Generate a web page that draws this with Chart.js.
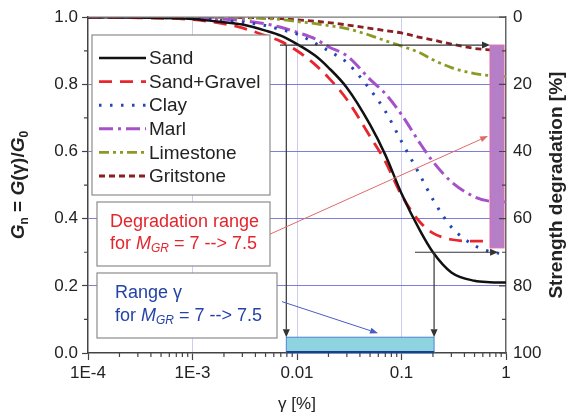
<!DOCTYPE html>
<html><head><meta charset="utf-8">
<script src="https://cdn.jsdelivr.net/npm/chart.js@4/dist/chart.umd.min.js"></script>
<style>html,body{margin:0;padding:0;background:#fff;}canvas{display:block;}</style>
</head><body>
<canvas id="c" width="569" height="418"></canvas>
<script>
// ---- data ----
const gammaPct   = [1e-4, 3e-4, 1e-3, 2e-3, 3e-3, 5e-3, 7e-3, 0.01, 0.015, 0.02, 0.03, 0.05, 0.07, 0.1, 0.15, 0.2, 0.3, 0.5, 0.7, 1];
const sand       = [1.000, 0.999, 0.995, 0.985, 0.978, 0.960, 0.945, 0.920, 0.885, 0.850, 0.790, 0.680, 0.590, 0.475, 0.365, 0.300, 0.240, 0.215, 0.211, 0.210];
const sandGravel = [1.000, 0.998, 0.993, 0.980, 0.968, 0.945, 0.928, 0.900, 0.858, 0.820, 0.755, 0.645, 0.570, 0.470, 0.390, 0.357, 0.338, 0.333, 0.333, 0.333];
const clay       = [1.000, 0.999, 0.997, 0.990, 0.985, 0.975, 0.963, 0.950, 0.922, 0.900, 0.865, 0.785, 0.720, 0.630, 0.530, 0.457, 0.375, 0.320, 0.302, 0.295];
const marl       = [1.000, 1.000, 0.998, 0.994, 0.990, 0.980, 0.970, 0.955, 0.935, 0.912, 0.885, 0.815, 0.772, 0.710, 0.625, 0.570, 0.510, 0.465, 0.452, 0.450];
const limestone  = [1.000, 1.000, 1.000, 0.999, 0.998, 0.996, 0.993, 0.987, 0.981, 0.975, 0.966, 0.946, 0.930, 0.914, 0.894, 0.873, 0.850, 0.832, 0.826, 0.823];
const gritstone  = [1.000, 1.000, 1.000, 1.000, 0.999, 0.998, 0.996, 0.992, 0.988, 0.984, 0.977, 0.967, 0.960, 0.953, 0.940, 0.932, 0.920, 0.907, 0.903, 0.900];
const seriesNames = ['Sand', 'Sand+Gravel', 'Clay', 'Marl', 'Limestone', 'Gritstone'];

const xTickValues = [1e-4, 1e-3, 1e-2, 1e-1, 1];
const xTickLabels = ['1E-4', '1E-3', '0.01', '0.1', '1'];
const yTickValues = [0, 0.2, 0.4, 0.6, 0.8, 1.0];
const y2TickValues = [0, 20, 40, 60, 80, 100];

// annotation ranges (data units)
const degradationGn = [0.313, 0.917];   // purple bar (G_n)
const degradationGamma = [0.703, 0.957];
const gammaRange = [0.0079, 0.205];     // cyan bar (gamma)
const gammaBarGn = [0, 0.047];
const levelHigh = 0.917, levelLow = 0.300;
const levelHighFrom = 0.00688, levelLowFrom = 0.1346, levelLowTo = 0.84;
const redArrowFrom = [0.00552, 0.354], redArrowTo = [0.673, 0.646];
const blueArrowFrom = [0.00718, 0.153], blueArrowTo = [0.0596, 0.059];

const FONT = "'Liberation Sans', Arial, Helvetica, sans-serif";
const styles = [
  {color:'#111111', dash:[],              width:2.5, cap:'butt'},
  {color:'#e8262d', dash:[13,8],          width:2.8, cap:'butt'},
  {color:'#2446b8', dash:[2.5,8.5],       width:3,   cap:'butt'},
  {color:'#a552c9', dash:[14,5,3,5],      width:3,   cap:'butt'},
  {color:'#8c9a24', dash:[10,4,3,4,3,4],  width:2.8, cap:'butt'},
  {color:'#8a1f24', dash:[6,4],           width:2.8, cap:'butt'}
];
const seriesValues = [sand, sandGravel, clay, marl, limestone, gritstone];

const datasets = seriesValues.map((arr, i) => ({
  label: seriesNames[i],
  data: gammaPct.map((g, j) => ({x: g, y: arr[j]})),
  borderColor: styles[i].color,
  borderDash: styles[i].dash,
  borderWidth: styles[i].width,
  borderCapStyle: styles[i].cap,
  pointRadius: 0,
  fill: false,
  cubicInterpolationMode: 'monotone',
  yAxisID: 'y'
}));

function arrow(ctx, x1, y1, x2, y2, color, lw, hl, hw) {
  ctx.save();
  ctx.strokeStyle = color; ctx.fillStyle = color; ctx.lineWidth = lw; ctx.setLineDash([]);
  const a = Math.atan2(y2 - y1, x2 - x1);
  const bx = x2 - hl * Math.cos(a), by = y2 - hl * Math.sin(a);
  ctx.beginPath(); ctx.moveTo(x1, y1); ctx.lineTo(bx, by); ctx.stroke();
  ctx.beginPath();
  ctx.moveTo(x2, y2);
  ctx.lineTo(bx + hw * Math.sin(a), by - hw * Math.cos(a));
  ctx.lineTo(bx - hw * Math.sin(a), by + hw * Math.cos(a));
  ctx.closePath(); ctx.fill();
  ctx.restore();
}
function rich(ctx, parts, x, y, color) {
  ctx.save(); ctx.textBaseline = 'middle'; ctx.textAlign = 'left'; ctx.fillStyle = color;
  let cx = x;
  for (const p of parts) {
    ctx.font = p.f;
    ctx.fillText(p.t, cx, y + (p.dy || 0));
    cx += ctx.measureText(p.t).width;
  }
  ctx.restore();
  return cx - x;
}
function richWidth(ctx, parts) {
  ctx.save(); let w = 0;
  for (const p of parts) { ctx.font = p.f; w += ctx.measureText(p.t).width; }
  ctx.restore(); return w;
}

const overlay = {
  id: 'overlay',
  afterDatasetsDraw(chart) {
    const ctx = chart.ctx, X = chart.scales.x, Y = chart.scales.y, Y2 = chart.scales.y2;
    const {left, right, top, bottom} = chart.chartArea;
    const px = v => X.getPixelForValue(v), py = v => Y.getPixelForValue(v);
    ctx.save();
    // top frame
    ctx.strokeStyle = '#777'; ctx.lineWidth = 1.2;
    ctx.beginPath(); ctx.moveTo(left, top); ctx.lineTo(right, top); ctx.stroke();

    // purple degradation bar
    const bx1 = px(degradationGamma[0]), bx2 = px(degradationGamma[1]);
    const by1 = py(degradationGn[1]), by2 = py(degradationGn[0]);
    ctx.fillStyle = '#b47fc6';
    ctx.fillRect(bx1, by1, bx2 - bx1, by2 - by1);
    ctx.strokeStyle = '#e46aa8'; ctx.lineWidth = 1;
    ctx.strokeRect(bx1, by1, bx2 - bx1, by2 - by1);

    // cyan gamma bar
    const cx1 = px(gammaRange[0]), cx2 = px(gammaRange[1]);
    const cy1 = py(gammaBarGn[1]), cy2 = py(gammaBarGn[0]);
    ctx.fillStyle = '#8ed4e0';
    ctx.fillRect(cx1, cy1, cx2 - cx1, cy2 - cy1);
    ctx.strokeStyle = '#4a86d0'; ctx.lineWidth = 1;
    ctx.strokeRect(cx1, cy1, cx2 - cx1, cy2 - cy1);
    ctx.strokeStyle = '#1d3d8a'; ctx.lineWidth = 2;
    ctx.beginPath(); ctx.moveTo(cx1, cy2 - 1); ctx.lineTo(cx2, cy2 - 1); ctx.stroke();

    // black level arrows
    const k = '#333';
    arrow(ctx, px(levelHighFrom), py(levelHigh), bx1, py(levelHigh), k, 1.2, 8, 3.5);
    arrow(ctx, px(gammaRange[0]), py(levelHigh), px(gammaRange[0]), cy1, k, 1.2, 8, 3.5);
    arrow(ctx, px(levelLowFrom), py(levelLow), px(levelLowTo), py(levelLow), k, 1.2, 8, 3.5);
    arrow(ctx, px(gammaRange[1]), py(levelLow), px(gammaRange[1]), cy1, k, 1.2, 8, 3.5);

    // legend box
    ctx.fillStyle = '#fff'; ctx.fillRect(92, 35, 178, 160);
    ctx.strokeStyle = '#8c8c8c'; ctx.lineWidth = 1.2; ctx.strokeRect(92, 35, 178, 160);
    chart.data.datasets.forEach((ds, i) => {
      const yy = 58 + i * 23.6;
      ctx.save();
      ctx.strokeStyle = ds.borderColor; ctx.lineWidth = ds.borderWidth; ctx.setLineDash(ds.borderDash);
      ctx.beginPath(); ctx.moveTo(99, yy); ctx.lineTo(146, yy); ctx.stroke();
      ctx.restore();
      ctx.fillStyle = '#222'; ctx.font = '19px ' + FONT; ctx.textBaseline = 'middle';
      ctx.fillText(ds.label, 149, yy + 1);
    });

    // text box 1 (red)
    ctx.fillStyle = '#fff'; ctx.fillRect(97, 202, 173, 64);
    ctx.strokeStyle = '#8c8c8c'; ctx.lineWidth = 1.2; ctx.strokeRect(97, 202, 173, 64);
    const red = '#e3252c', blue = '#2443a6';
    const f18 = '18px ' + FONT, fi18 = 'italic 18px ' + FONT, fi12 = 'italic 12px ' + FONT;
    const forM = [{t:'for ', f:f18}, {t:'M', f:fi18}, {t:'GR', f:fi12, dy:5}, {t:' = 7 --> 7.5', f:f18}];
    rich(ctx, [{t:'Degradation range', f:f18}], 110, 222, red);
    rich(ctx, forM, 110, 244, red);
    // text box 2 (blue)
    ctx.fillStyle = '#fff'; ctx.fillRect(97, 273, 180, 65);
    ctx.strokeStyle = '#8c8c8c'; ctx.strokeRect(97, 273, 180, 65);
    rich(ctx, [{t:'Range ', f:f18}, {t:'γ', f:f18}], 115, 293, blue);
    rich(ctx, forM, 115, 316, blue);

    // thin arrows
    arrow(ctx, px(redArrowFrom[0]), py(redArrowFrom[1]), px(redArrowTo[0]), py(redArrowTo[1]), '#e06a6a', 1, 8, 3);
    arrow(ctx, px(blueArrowFrom[0]), py(blueArrowFrom[1]), px(blueArrowTo[0]), py(blueArrowTo[1]), '#4a5cc4', 1, 8, 3);
    ctx.restore();
  },
  afterDraw(chart) {
    const ctx = chart.ctx, X = chart.scales.x, Y = chart.scales.y, Y2 = chart.scales.y2;
    const {left, right, top, bottom} = chart.chartArea;
    ctx.save();
    ctx.strokeStyle = '#444'; ctx.lineWidth = 1.2;
    ctx.beginPath();
    // bottom minor ticks
    for (const d of [1e-4, 1e-3, 1e-2, 1e-1]) for (let m = 2; m <= 9; m++) {
      const x = X.getPixelForValue(d * m);
      ctx.moveTo(x, bottom); ctx.lineTo(x, bottom + 4);
    }
    // left minor ticks
    for (const v of [0.1, 0.3, 0.5, 0.7, 0.9]) {
      const y = Y.getPixelForValue(v);
      ctx.moveTo(left - 4, y); ctx.lineTo(left, y);
    }
    // right inward ticks
    for (const v of y2TickValues) { const y = Y2.getPixelForValue(v); ctx.moveTo(right, y); ctx.lineTo(right - 7, y); }
    for (const v of [10, 30, 50, 70, 90]) { const y = Y2.getPixelForValue(v); ctx.moveTo(right, y); ctx.lineTo(right - 4, y); }
    ctx.stroke();

    // axis titles
    ctx.fillStyle = '#222';
    ctx.textBaseline = 'middle'; ctx.textAlign = 'center';
    ctx.font = '17px ' + FONT;
    ctx.fillText('γ [%]', (left + right) / 2, 404);
    ctx.save();
    ctx.translate(557, (top + bottom) / 2); ctx.rotate(-Math.PI / 2);
    ctx.font = 'bold 19px ' + FONT; ctx.fillText('Strength degradation [%]', 0, 0);
    ctx.restore();
    const fb = 'bold 19px ' + FONT, fbi = 'italic bold 19px ' + FONT, fs = 'bold 12px ' + FONT;
    const parts = [{t:'G', f:fbi}, {t:'n', f:fs, dy:6}, {t:' = ', f:fb}, {t:'G', f:fbi}, {t:'(γ)/', f:fb}, {t:'G', f:fbi}, {t:'0', f:fs, dy:6}];
    ctx.save();
    ctx.translate(19, (top + bottom) / 2); ctx.rotate(-Math.PI / 2);
    const w = richWidth(ctx, parts);
    rich(ctx, parts, -w / 2, 0, '#222');
    ctx.restore();
    ctx.restore();
  }
};

new Chart(document.getElementById('c'), {
  type: 'line',
  data: { datasets },
  options: {
    responsive: false, animation: false, devicePixelRatio: 1,
    layout: { padding: { top: 14, left: 0, right: 0, bottom: 0 } },
    plugins: { legend: { display: false }, tooltip: { enabled: false } },
    scales: {
      x: {
        type: 'logarithmic', min: 1e-4, max: 1, position: 'bottom',
        afterBuildTicks: s => { s.ticks = xTickValues.map(v => ({value: v})); },
        afterFit: s => { s.height = 65; },
        ticks: { callback: (v, i) => xTickLabels[i], font: { family: FONT, size: 17 }, color: '#222', padding: 3, maxRotation: 0, autoSkip: false },
        grid: {
          color: c => (c.index === 0 || c.index === xTickValues.length - 1) ? 'rgba(0,0,0,0)' : '#cdcdf2',
          lineWidth: 1, tickColor: '#444', tickLength: 7, tickWidth: 1.2
        },
        border: { color: '#444', width: 1.5 }
      },
      y: {
        type: 'linear', min: 0, max: 1, position: 'left',
        afterBuildTicks: s => { s.ticks = yTickValues.map(v => ({value: v})); },
        afterFit: s => { s.width = 88; },
        ticks: { callback: v => v.toFixed(1), font: { family: FONT, size: 17 }, color: '#222', padding: 4 },
        grid: {
          color: c => (c.tick && (c.tick.value <= 0.001 || c.tick.value >= 0.999)) ? 'rgba(0,0,0,0)' : '#7d7dda',
          lineWidth: 1, tickColor: '#444', tickLength: 6, tickWidth: 1.2
        },
        border: { color: '#444', width: 1.5 }
      },
      y2: {
        type: 'linear', min: 0, max: 100, reverse: true, position: 'right',
        afterBuildTicks: s => { s.ticks = y2TickValues.map(v => ({value: v})); },
        afterFit: s => { s.width = 63; },
        ticks: { font: { family: FONT, size: 17 }, color: '#222', padding: 7 },
        grid: { drawOnChartArea: false, drawTicks: false },
        border: { color: '#666', width: 1.5 }
      }
    }
  },
  plugins: [overlay]
});
</script>
</body></html>
